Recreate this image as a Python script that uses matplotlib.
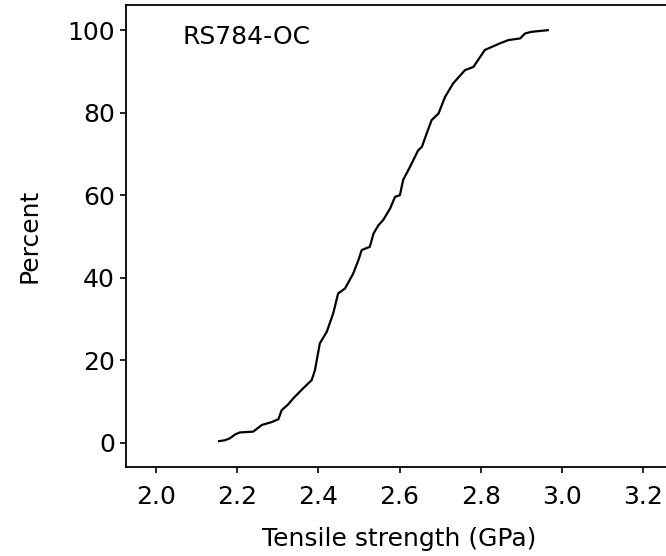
import matplotlib
matplotlib.use("Agg")
import matplotlib.pyplot as plt

plt.rcParams['font.family'] = ['DejaVu Sans']

strength_gpa = [2.156, 2.170, 2.183, 2.195, 2.207, 2.240, 2.261, 2.285, 2.302, 2.310,
                2.325, 2.339, 2.363, 2.384, 2.392, 2.404, 2.421, 2.437, 2.449, 2.466,
                2.486, 2.499, 2.507, 2.527, 2.536, 2.548, 2.560, 2.577, 2.589, 2.601,
                2.609, 2.626, 2.646, 2.655, 2.667, 2.679, 2.696, 2.712, 2.732, 2.761,
                2.782, 2.810, 2.847, 2.868, 2.897, 2.909, 2.925, 2.965]
percent = [0.4, 0.6, 1.1, 2.0, 2.5, 2.7, 4.3, 5.0, 5.7, 7.9,
           9.2, 10.8, 13.2, 15.2, 17.6, 24.1, 26.9, 31.4, 36.2, 37.4,
           41.0, 44.3, 46.7, 47.5, 50.7, 52.7, 54.0, 56.8, 59.6, 60.0,
           63.7, 66.9, 70.9, 71.7, 75.0, 78.2, 79.8, 83.8, 87.1, 90.3,
           91.1, 95.2, 96.8, 97.6, 98.0, 99.2, 99.6, 100.0]
x_ticks = [2.0, 2.2, 2.4, 2.6, 2.8, 3.0, 3.2]
y_ticks = [0, 20, 40, 60, 80, 100]

fs = 18
fig = plt.figure(figsize=(6.66, 5.56), dpi=100)
ax = fig.add_axes([126/666, 1 - 466.7/556, 547/666, 461.7/556])
ax.plot(strength_gpa, percent, color='black', lw=1.6)
ax.set_xlim(1.927, 3.273)
ax.set_ylim(-5.8, 106.1)
ax.set_xticks(x_ticks)
ax.set_xticklabels([f"{v:.1f}" for v in x_ticks])
ax.set_yticks(y_ticks)
ax.tick_params(direction='out', length=4, width=1.2, labelsize=fs, colors='black')
ax.tick_params(axis='x', pad=9)
ax.tick_params(axis='y', pad=4)
for s in ax.spines.values():
    s.set_linewidth(1.3)
ax.set_xlabel("Tensile strength (GPa)", fontsize=fs)
ax.set_ylabel("Percent", fontsize=fs)
ax.xaxis.set_label_coords(0.5, -0.131)
ax.yaxis.set_label_coords(-0.155, 0.5)
ax.text(0.104, 0.93, "RS784-OC", transform=ax.transAxes, fontsize=fs, va='center', ha='left')
fig.savefig("out.png", dpi=100)
